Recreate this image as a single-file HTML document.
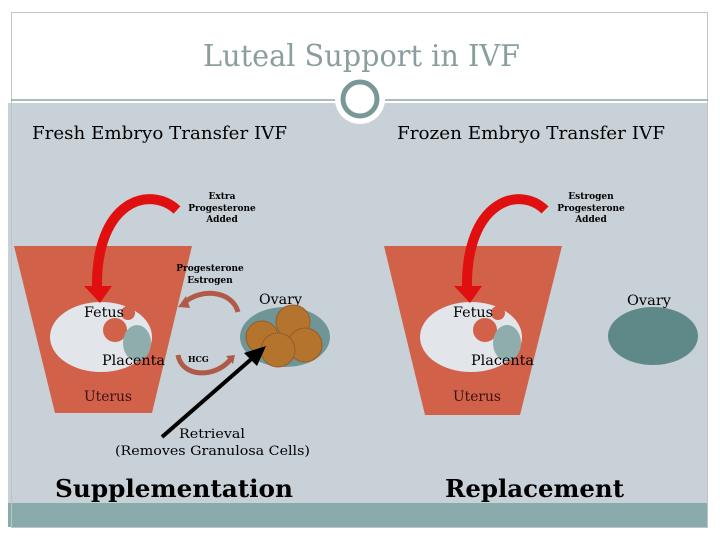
<!DOCTYPE html>
<html><head><meta charset="utf-8"><style>
html,body{margin:0;padding:0;background:#fff;}
svg{display:block;}
text{font-family:"DejaVu Serif","Liberation Serif",serif;}
</style></head><body>
<svg width="720" height="540" viewBox="0 0 720 540" xmlns="http://www.w3.org/2000/svg">
<rect x="0" y="0" width="720" height="540" fill="#fff"/>
<rect x="8" y="103" width="699" height="400" fill="#c8d1d7"/>
<rect x="8" y="503" width="699" height="24" fill="#8aabab"/>
<rect x="11.5" y="12.5" width="696" height="515" fill="none" stroke="#bcc6c8" stroke-width="1"/>
<line x1="11" y1="100" x2="336" y2="100" stroke="#8fa7a7" stroke-width="1.5"/>
<line x1="384" y1="100" x2="708" y2="100" stroke="#8fa7a7" stroke-width="1.5"/>
<circle cx="360" cy="99" r="25" fill="#fff"/>
<circle cx="360" cy="99" r="17" fill="#fff" stroke="#7a9797" stroke-width="5"/>
<text x="203" y="66" font-size="30" fill="#8a9e9e" textLength="317" lengthAdjust="spacingAndGlyphs">Luteal Support in IVF</text>
<text x="32" y="139" font-size="18" textLength="255" lengthAdjust="spacingAndGlyphs">Fresh Embryo Transfer IVF</text>
<text x="397" y="139" font-size="18" textLength="268" lengthAdjust="spacingAndGlyphs">Frozen Embryo Transfer IVF</text>

<polygon points="14,246 192,246 152,413 55,413" fill="#d2614a"/>
<ellipse cx="101" cy="337" rx="51" ry="35" fill="#e2e5ea"/>
<circle cx="115" cy="330" r="12" fill="#d2614a"/>
<circle cx="128" cy="313" r="7" fill="#d2614a"/>
<ellipse cx="137" cy="343" rx="14" ry="18" fill="#8fadad"/>
<text x="84" y="317" font-size="14" textLength="40" lengthAdjust="spacingAndGlyphs">Fetus</text>
<text x="102" y="365" font-size="14" textLength="63" lengthAdjust="spacingAndGlyphs">Placenta</text>
<text x="84" y="401" font-size="14" fill="#3a1010" textLength="48" lengthAdjust="spacingAndGlyphs">Uterus</text>
<path d="M177,210 C150,185 95,200 97,290" fill="none" stroke="#e01010" stroke-width="10"/>
<polygon points="84,286 112,286 100,303" fill="#e01010"/>
<text x="222" y="199" font-size="9" font-weight="bold" text-anchor="middle">Extra</text>
<text x="222" y="211" font-size="9" font-weight="bold" text-anchor="middle">Progesterone</text>
<text x="222" y="222" font-size="9" font-weight="bold" text-anchor="middle">Added</text>
<text x="210" y="271" font-size="9" font-weight="bold" text-anchor="middle">Progesterone</text>
<text x="210" y="283" font-size="9" font-weight="bold" text-anchor="middle">Estrogen</text>
<path d="M238,312 C232,290 200,288 184,303" fill="none" stroke="#b05a48" stroke-width="5"/>
<polygon points="178,307 186,296 190,308" fill="#b05a48"/>
<path d="M178,355 C182,378 215,378 230,360" fill="none" stroke="#b05a48" stroke-width="5"/>
<polygon points="235,355 226,356 233,364" fill="#b05a48"/>
<text x="188" y="362" font-size="8" font-weight="bold">HCG</text>
<text x="259" y="304" font-size="14" textLength="43" lengthAdjust="spacingAndGlyphs">Ovary</text>
<ellipse cx="285" cy="337" rx="45" ry="30" fill="#6f9696"/>
<circle cx="293" cy="322" r="17" fill="#b5742e" stroke="#9a5a28"/>
<circle cx="305" cy="345" r="17" fill="#b5742e" stroke="#9a5a28"/>
<circle cx="262" cy="337" r="16" fill="#b5742e" stroke="#9a5a28"/>
<circle cx="278" cy="350" r="17" fill="#b5742e" stroke="#9a5a28"/>
<line x1="162" y1="437" x2="256" y2="355" stroke="#000" stroke-width="4"/>
<polygon points="266,346 244,353 257,366" fill="#000"/>
<text x="179" y="438" font-size="13" textLength="66" lengthAdjust="spacingAndGlyphs">Retrieval</text>
<text x="115" y="455" font-size="13" textLength="195" lengthAdjust="spacingAndGlyphs">(Removes Granulosa Cells)</text>
<text x="55" y="497" font-size="24" font-weight="bold" textLength="238" lengthAdjust="spacingAndGlyphs">Supplementation</text>

<polygon points="384,246 562,246 520,415 425,415" fill="#d2614a"/>
<ellipse cx="471" cy="337" rx="51" ry="35" fill="#e2e5ea"/>
<circle cx="485" cy="330" r="12" fill="#d2614a"/>
<circle cx="498" cy="313" r="7" fill="#d2614a"/>
<ellipse cx="507" cy="343" rx="14" ry="18" fill="#8fadad"/>
<text x="453" y="317" font-size="14" textLength="40" lengthAdjust="spacingAndGlyphs">Fetus</text>
<text x="471" y="365" font-size="14" textLength="63" lengthAdjust="spacingAndGlyphs">Placenta</text>
<text x="453" y="401" font-size="14" fill="#3a1010" textLength="48" lengthAdjust="spacingAndGlyphs">Uterus</text>
<path d="M545,210 C520,185 465,200 467,290" fill="none" stroke="#e01010" stroke-width="10"/>
<polygon points="454,286 482,286 470,303" fill="#e01010"/>
<text x="591" y="199" font-size="9" font-weight="bold" text-anchor="middle">Estrogen</text>
<text x="591" y="211" font-size="9" font-weight="bold" text-anchor="middle">Progesterone</text>
<text x="591" y="222" font-size="9" font-weight="bold" text-anchor="middle">Added</text>
<text x="627" y="305" font-size="14" textLength="44" lengthAdjust="spacingAndGlyphs">Ovary</text>
<ellipse cx="653" cy="336" rx="45" ry="29" fill="#5f8888"/>
<text x="445" y="497" font-size="24" font-weight="bold" textLength="179" lengthAdjust="spacingAndGlyphs">Replacement</text>
</svg>
</body></html>
